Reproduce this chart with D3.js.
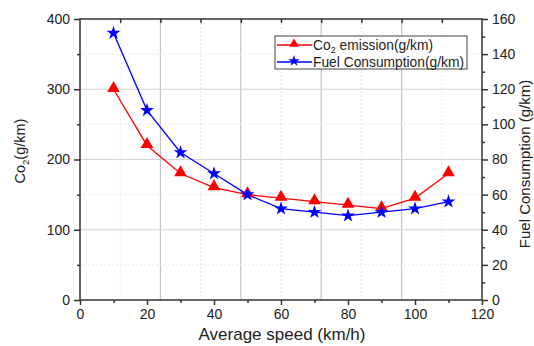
<!DOCTYPE html>
<html>
<head>
<meta charset="utf-8">
<script src="https://cdn.jsdelivr.net/npm/d3@7"></script>
<style>
  body { margin: 0; background: #fff; }
  text { font-family: "Liberation Sans", Arial, sans-serif; }
</style>
</head>
<body>
<div class="graph"></div>
<script>
var speeds = [10, 20, 30, 40, 50, 60, 70, 80, 90, 100, 110];
var co2 = [300, 220, 180, 160, 150, 145, 140, 135, 130, 145, 180];
var fuel = [152, 108, 84, 72, 60, 52, 50, 48, 50, 52, 56];
var xTicks = [0, 20, 40, 60, 80, 100, 120];
var leftTicks = [0, 100, 200, 300, 400];
var rightTicks = [0, 20, 40, 60, 80, 100, 120, 140, 160];

(function() {
var W = 534, H = 346;
var pL = 80, pR = 482, pT = 19, pB = 300;

var svg = d3.select(".graph").append("svg")
  .attr("width", W).attr("height", H);

var x = d3.scaleLinear().domain([0, 120]).range([pL, pR]);
var yL = d3.scaleLinear().domain([0, 400]).range([pB, pT]);
var yR = d3.scaleLinear().domain([0, 160]).range([pB, pT]);

// grid (origin style: vertical every 12, horizontal every 50)
var grid = svg.append("g");
d3.range(12, 120, 12).forEach(function(v, i) {
  grid.append("line")
    .attr("x1", x(v)).attr("x2", x(v)).attr("y1", pT).attr("y2", pB)
    .attr("stroke", i % 2 ? "#c4c4c4" : "#e8e8e8")
    .attr("stroke-width", i % 2 ? 1.2 : 1)
    .attr("stroke-dasharray", i % 2 ? null : "2,2");
});
d3.range(50, 400, 50).forEach(function(v, i) {
  grid.append("line")
    .attr("x1", pL).attr("x2", pR).attr("y1", yL(v)).attr("y2", yL(v))
    .attr("stroke", i % 2 ? "#d4d4d4" : "#e8e8e8")
    .attr("stroke-width", i % 2 ? 1.2 : 1)
    .attr("stroke-dasharray", i % 2 ? null : "2,2");
});

// frame
svg.append("rect")
  .attr("x", pL).attr("y", pT).attr("width", pR - pL).attr("height", pB - pT)
  .attr("fill", "none").attr("stroke", "#333").attr("stroke-width", 1.5);

// bottom axis
svg.append("g").attr("transform", "translate(0," + pB + ")")
  .call(d3.axisBottom(x).tickValues(xTicks).tickSize(5).tickPadding(4));
svg.append("g").attr("transform", "translate(0," + pB + ")")
  .call(d3.axisBottom(x).tickValues(d3.range(10, 120, 20)).tickSize(3).tickFormat(""));
// top ticks (inward)
svg.append("g").attr("transform", "translate(0," + pT + ")")
  .call(d3.axisBottom(x).tickValues(d3.range(12, 120, 12)).tickSize(4).tickFormat(""));

// left axis
svg.append("g").attr("transform", "translate(" + pL + ",0)")
  .call(d3.axisLeft(yL).tickValues(leftTicks).tickSize(6).tickPadding(4));
svg.append("g").attr("transform", "translate(" + pL + ",0)")
  .call(d3.axisLeft(yL).tickValues(d3.range(50, 400, 100)).tickSize(3).tickFormat(""));

// right axis
svg.append("g").attr("transform", "translate(" + pR + ",0)")
  .call(d3.axisRight(yR).tickValues(rightTicks).tickSize(6).tickPadding(4));
svg.append("g").attr("transform", "translate(" + pR + ",0)")
  .call(d3.axisRight(yR).tickValues(d3.range(10, 160, 20)).tickSize(3).tickFormat(""));

svg.selectAll(".domain").attr("stroke", "none");
svg.selectAll(".tick line").attr("stroke", "#333").attr("stroke-width", 1.5);
svg.selectAll(".tick text").attr("font-size", "14px").attr("fill", "#222")
  .attr("font-family", "Liberation Sans, Arial, sans-serif");

// series
var co2Data = speeds.map(function(s, i) { return {x: s, y: co2[i]}; });
var fuelData = speeds.map(function(s, i) { return {x: s, y: fuel[i]}; });

var lineL = d3.line().x(function(d) { return x(d.x); }).y(function(d) { return yL(d.y); });
var lineR = d3.line().x(function(d) { return x(d.x); }).y(function(d) { return yR(d.y); });

svg.append("path").datum(co2Data).attr("d", lineL)
  .attr("fill", "none").attr("stroke", "#ff0000").attr("stroke-width", 1.3);
svg.append("path").datum(fuelData).attr("d", lineR)
  .attr("fill", "none").attr("stroke", "#0000ff").attr("stroke-width", 1.3);

var tri = d3.symbol().type(d3.symbolTriangle).size(70);
var star = d3.symbol().type(d3.symbolStar).size(60);

svg.selectAll("path.tri").data(co2Data).enter().append("path")
  .attr("class", "tri").attr("d", tri)
  .attr("transform", function(d) { return "translate(" + x(d.x) + "," + (yL(d.y) - 1) + ")"; })
  .attr("fill", "#ff0000");
svg.selectAll("path.star").data(fuelData).enter().append("path")
  .attr("class", "star").attr("d", star)
  .attr("transform", function(d) { return "translate(" + x(d.x) + "," + yR(d.y) + ")"; })
  .attr("fill", "#0000ff");

// legend
var lg = svg.append("g");
lg.append("rect").attr("x", 275).attr("y", 36).attr("width", 192).attr("height", 33)
  .attr("fill", "#fff").attr("stroke", "#444").attr("stroke-width", 1);
var items = [
  {color: "#ff0000", sym: d3.symbol().type(d3.symbolTriangle).size(40), dy: 45},
  {color: "#0000ff", sym: d3.symbol().type(d3.symbolStar).size(40), dy: 62}
];
items.forEach(function(it) {
  lg.append("line").attr("x1", 277).attr("x2", 312).attr("y1", it.dy).attr("y2", it.dy)
    .attr("stroke", it.color).attr("stroke-width", 1.3);
  lg.append("path").attr("d", it.sym).attr("fill", it.color)
    .attr("transform", "translate(294," + (it.dy - 1) + ")");
});
var t1 = lg.append("text").attr("x", 313).attr("y", 50).attr("font-size", "13.8px").attr("fill", "#222");
t1.append("tspan").text("Co");
t1.append("tspan").attr("font-size", "9px").attr("dy", 3).text("2");
t1.append("tspan").attr("dy", -3).text(" emission(g/km)");
lg.append("text").attr("x", 313).attr("y", 67).attr("font-size", "13.8px").attr("fill", "#222")
  .text("Fuel Consumption(g/km)");

// axis titles
svg.append("text").attr("x", 282).attr("y", 340).attr("text-anchor", "middle")
  .attr("font-size", "17px").attr("fill", "#222").text("Average speed (km/h)");

var lt = svg.append("text").attr("transform", "translate(25,151) rotate(-90)")
  .attr("text-anchor", "middle").attr("font-size", "14.5px").attr("fill", "#222");
lt.append("tspan").text("Co");
lt.append("tspan").attr("font-size", "9.5px").attr("dy", 4).text("2");
lt.append("tspan").attr("dy", -4).text("(g/km)");

svg.append("text").attr("transform", "translate(530,164) rotate(-90)")
  .attr("text-anchor", "middle").attr("font-size", "15px").attr("fill", "#222")
  .text("Fuel Consumption (g/km)");
})();
</script>
</body>
</html>
